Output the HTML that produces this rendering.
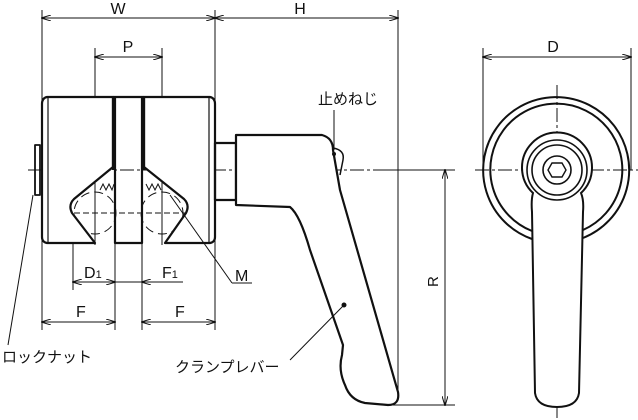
<!DOCTYPE html>
<html><head><meta charset="utf-8"><style>
html,body{margin:0;padding:0;background:#fff;}
svg{display:block;}
text{font-family:"Liberation Sans","Noto Sans CJK JP",sans-serif;fill:#111;}
</style></head><body>
<svg width="638" height="420" viewBox="0 0 638 420" xmlns="http://www.w3.org/2000/svg">
<defs>
<marker id="a" markerWidth="10" markerHeight="6" refX="9" refY="3" orient="auto-start-reverse" markerUnits="userSpaceOnUse"><path d="M0,0 L10,3 L0,6" fill="none" stroke="#111" stroke-width="1"/></marker>
</defs>
<g fill="none" stroke="#111" stroke-width="1">
<line x1="42" y1="10" x2="42" y2="330"/>
<line x1="215" y1="10" x2="215" y2="330"/>
<line x1="398" y1="10" x2="398" y2="400"/>
<line x1="95" y1="48" x2="95" y2="245"/>
<line x1="162" y1="48" x2="162" y2="245"/>
<line x1="73" y1="215" x2="73" y2="290"/>
<line x1="115" y1="243" x2="115" y2="330"/>
<line x1="142" y1="243" x2="142" y2="330"/>
<line x1="483" y1="48" x2="483" y2="170"/>
<line x1="631" y1="48" x2="631" y2="170"/>
<line x1="380" y1="170" x2="455" y2="170"/>
<line x1="385" y1="405" x2="455" y2="405"/>
<line x1="42" y1="18" x2="215" y2="18" marker-start="url(#a)" marker-end="url(#a)"/>
<line x1="215" y1="18" x2="398" y2="18" marker-start="url(#a)" marker-end="url(#a)"/>
<line x1="95" y1="57" x2="162" y2="57" marker-start="url(#a)" marker-end="url(#a)"/>
<line x1="483" y1="57" x2="631" y2="57" marker-start="url(#a)" marker-end="url(#a)"/>
<line x1="73" y1="282" x2="115" y2="282" marker-start="url(#a)" marker-end="url(#a)"/>
<line x1="183" y1="282" x2="142" y2="282" marker-end="url(#a)"/>
<line x1="115" y1="282" x2="142" y2="282"/>
<line x1="42" y1="322" x2="115" y2="322" marker-start="url(#a)" marker-end="url(#a)"/>
<line x1="142" y1="322" x2="215" y2="322" marker-start="url(#a)" marker-end="url(#a)"/>
<line x1="445" y1="170" x2="445" y2="405" marker-start="url(#a)" marker-end="url(#a)"/>
<line x1="28" y1="170" x2="420" y2="170" stroke-dasharray="14,3,3,3"/>
<line x1="475" y1="170" x2="638" y2="170" stroke-dasharray="14,3,3,3"/>
<line x1="557" y1="85" x2="557" y2="418" stroke-dasharray="14,3,3,3"/>
<line x1="65" y1="213" x2="195" y2="213" stroke-dasharray="6,3"/>
<circle cx="95" cy="213" r="21" stroke-dasharray="9,5"/>
<circle cx="162" cy="213" r="21" stroke-dasharray="9,5"/>
</g>
<g fill="none" stroke="#111" stroke-width="2.2" stroke-linejoin="round">
<path d="M113,97 L47,97 Q42,98 42,104 L42,237 Q42,242 47,243 L95,243 L72,213 Q68,205 74,199 L113,167 Z" fill="#fff"/>
<path d="M144,97 L210,97 Q215,98 215,104 L215,237 Q215,242 210,243 L165,243 L186,213 Q190,205 184,199 L144,167 Z" fill="#fff"/>
<line x1="48" y1="97" x2="48" y2="243" stroke-width="1.2"/>
<line x1="209" y1="97" x2="209" y2="243" stroke-width="1.2"/>
<path d="M113,97 L113,170 M144,97 L144,170"/>
<path d="M113,97 L144,97 M115,97 L115,243 L142,243 L142,97"/>
<rect x="35" y="145" width="5" height="50" stroke-width="1.8"/>
<rect x="215" y="143" width="21" height="57"/>
<path d="M236,135 L322,135 Q333,138 333,150 L340,190 L398,392 Q400,405 388,405 L365,403 Q350,400 345,385 Q338,370 342,355 L343,345 L310,250 Q300,215 290,207 L236,205 Z" fill="#fff"/>
<path d="M333,148 Q345,150 343,160 L340,175" stroke-width="1.5"/>
</g>
<g stroke="#111" stroke-width="1" fill="none">
<path d="M100,190 l3,-6 l3,6 l3,-6 l3,6 l2,-6"/>
<path d="M146,184 l3,6 l3,-6 l3,6 l3,-6 l3,6"/>
<line x1="170" y1="195" x2="232" y2="283"/>
<line x1="232" y1="283" x2="252" y2="283"/>
<line x1="33" y1="195" x2="8" y2="345"/>
<line x1="344" y1="305" x2="290" y2="360"/>
<line x1="334" y1="110" x2="334" y2="150"/>
</g>
<circle cx="344" cy="305" r="2.5" fill="#111"/>
<circle cx="334" cy="154" r="2" fill="#111"/>
<g fill="none" stroke="#111" stroke-width="2">
<path d="M532,239 A73,73 0 1 1 583,238"/>
<path d="M532,231 A66,66 0 1 1 583,230"/>
<path d="M533,193 Q531,200 532,212 L535,393 Q537,407 557,407 Q577,407 579,393 L583,212 Q584,200 581,193 A35,35 0 1 0 533,193 Z" fill="#fff"/>
<circle cx="557" cy="170" r="30" stroke-width="1.6"/>
<circle cx="557" cy="170" r="25" stroke-width="1.6"/>
<circle cx="557" cy="170" r="14" stroke-width="1.6"/>
<polygon points="552,163 562,163 566,170 562,177 552,177 548,170" stroke-width="1.4"/>
</g>
<g font-size="16">
<text x="118" y="14" text-anchor="middle">W</text>
<text x="300" y="14" text-anchor="middle">H</text>
<text x="128" y="52" text-anchor="middle">P</text>
<text x="553" y="52" text-anchor="middle">D</text>
<text x="84" y="278">D<tspan font-size="11">1</tspan></text>
<text x="162" y="278">F<tspan font-size="11">1</tspan></text>
<text x="76" y="317">F</text>
<text x="175" y="317">F</text>
<text x="235" y="281">M</text>
<text x="438" y="287" transform="rotate(-90 438 287)" font-size="15">R</text>
<text x="318" y="104" font-size="15">止めねじ</text>
<text x="2" y="362" font-size="15">ロックナット</text>
<text x="175" y="372" font-size="15">クランプレバー</text>
</g>
</svg>
</body></html>
